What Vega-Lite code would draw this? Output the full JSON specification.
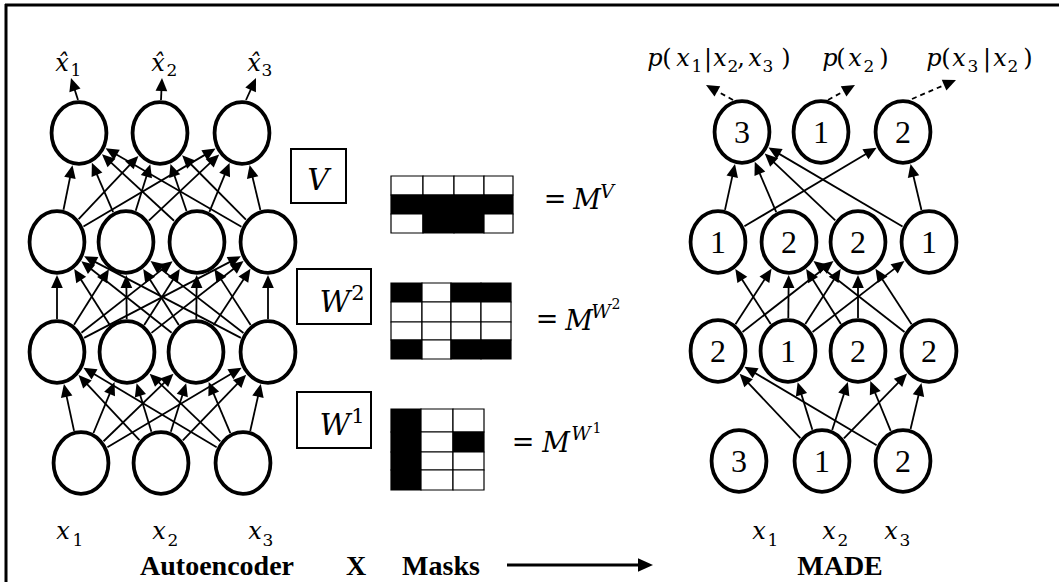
{
"$schema":"https://vega.github.io/schema/vega-lite/v6.json",
"width":1059,"height":582,"autosize":"none","padding":0,"background":"white",
"config":{"view":{"stroke":null}},
"datasets":{
"nodes":[
{"id":"a0","x":81,"y":463,"lab":""},{"id":"a1","x":161,"y":463,"lab":""},{"id":"a2","x":243,"y":463,"lab":""},
{"id":"b0","x":57,"y":352,"lab":""},{"id":"b1","x":127,"y":352,"lab":""},{"id":"b2","x":196,"y":352,"lab":""},{"id":"b3","x":268,"y":352,"lab":""},
{"id":"c0","x":57,"y":242,"lab":""},{"id":"c1","x":126,"y":242,"lab":""},{"id":"c2","x":197,"y":242,"lab":""},{"id":"c3","x":268,"y":242,"lab":""},
{"id":"d0","x":79,"y":133,"lab":""},{"id":"d1","x":160,"y":133,"lab":""},{"id":"d2","x":242,"y":133,"lab":""},
{"id":"m0","x":739,"y":461,"lab":"3"},{"id":"m1","x":822,"y":461,"lab":"1"},{"id":"m2","x":903,"y":461,"lab":"2"},
{"id":"n0","x":718,"y":351,"lab":"2"},{"id":"n1","x":788,"y":351,"lab":"1"},{"id":"n2","x":858,"y":351,"lab":"2"},{"id":"n3","x":929,"y":351,"lab":"2"},
{"id":"o0","x":718,"y":242,"lab":"1"},{"id":"o1","x":789,"y":242,"lab":"2"},{"id":"o2","x":858,"y":242,"lab":"2"},{"id":"o3","x":929,"y":242,"lab":"1"},
{"id":"p0","x":742,"y":132,"lab":"3"},{"id":"p1","x":821,"y":132,"lab":"1"},{"id":"p2","x":903,"y":132,"lab":"2"}
],
"edges":[
{"s":"a0","d":"b0"},{"s":"a0","d":"b1"},{"s":"a0","d":"b2"},{"s":"a0","d":"b3"},
{"s":"a1","d":"b0"},{"s":"a1","d":"b1"},{"s":"a1","d":"b2"},{"s":"a1","d":"b3"},
{"s":"a2","d":"b0"},{"s":"a2","d":"b1"},{"s":"a2","d":"b2"},{"s":"a2","d":"b3"},
{"s":"b0","d":"c0"},{"s":"b0","d":"c1"},{"s":"b0","d":"c2"},{"s":"b0","d":"c3"},
{"s":"b1","d":"c0"},{"s":"b1","d":"c1"},{"s":"b1","d":"c2"},{"s":"b1","d":"c3"},
{"s":"b2","d":"c0"},{"s":"b2","d":"c1"},{"s":"b2","d":"c2"},{"s":"b2","d":"c3"},
{"s":"b3","d":"c0"},{"s":"b3","d":"c1"},{"s":"b3","d":"c2"},{"s":"b3","d":"c3"},
{"s":"c0","d":"d0"},{"s":"c0","d":"d1"},{"s":"c0","d":"d2"},
{"s":"c1","d":"d0"},{"s":"c1","d":"d1"},{"s":"c1","d":"d2"},
{"s":"c2","d":"d0"},{"s":"c2","d":"d1"},{"s":"c2","d":"d2"},
{"s":"c3","d":"d0"},{"s":"c3","d":"d1"},{"s":"c3","d":"d2"},
{"s":"m1","d":"n0"},{"s":"m1","d":"n1"},{"s":"m1","d":"n2"},{"s":"m1","d":"n3"},
{"s":"m2","d":"n0"},{"s":"m2","d":"n2"},{"s":"m2","d":"n3"},
{"s":"n0","d":"o1"},{"s":"n0","d":"o2"},
{"s":"n1","d":"o0"},{"s":"n1","d":"o1"},{"s":"n1","d":"o2"},{"s":"n1","d":"o3"},
{"s":"n2","d":"o1"},{"s":"n2","d":"o2"},{"s":"n3","d":"o1"},{"s":"n3","d":"o2"},
{"s":"o0","d":"p0"},{"s":"o1","d":"p0"},{"s":"o2","d":"p0"},{"s":"o3","d":"p0"},
{"s":"o0","d":"p2"},{"s":"o3","d":"p2"}
],
"arrows":[
{"x":78,"y":100,"x2":71,"y2":78,"k":"s"},
{"x":161,"y":100,"x2":162,"y2":78,"k":"s"},
{"x":246,"y":100,"x2":256,"y2":78,"k":"s"},
{"x":733,"y":100,"x2":706,"y2":85,"k":"d"},
{"x":828,"y":100,"x2":855,"y2":85,"k":"d"},
{"x":912,"y":99,"x2":956,"y2":80,"k":"d"},
{"x":507,"y":565,"x2":653,"y2":565,"k":"b"}
],
"frame":[
{"x":5,"y":5,"x2":1059,"y2":5},
{"x":6,"y":4,"x2":6,"y2":582}
],
"boxes":[
{"x":291,"x2":346,"y":149,"y2":203},
{"x":297,"x2":371,"y":269,"y2":324},
{"x":297,"x2":371,"y":392,"y2":448}
],
"cells":[
{"x":391,"x2":423,"y":176,"y2":195,"v":0},{"x":423,"x2":454,"y":176,"y2":195,"v":0},{"x":454,"x2":484,"y":176,"y2":195,"v":0},{"x":484,"x2":513,"y":176,"y2":195,"v":0},
{"x":391,"x2":423,"y":195,"y2":214,"v":1},{"x":423,"x2":454,"y":195,"y2":214,"v":1},{"x":454,"x2":484,"y":195,"y2":214,"v":1},{"x":484,"x2":513,"y":195,"y2":214,"v":1},
{"x":391,"x2":423,"y":214,"y2":233,"v":0},{"x":423,"x2":454,"y":214,"y2":233,"v":1},{"x":454,"x2":484,"y":214,"y2":233,"v":1},{"x":484,"x2":513,"y":214,"y2":233,"v":0},
{"x":391,"x2":422,"y":283,"y2":302,"v":1},{"x":422,"x2":451,"y":283,"y2":302,"v":0},{"x":451,"x2":481,"y":283,"y2":302,"v":1},{"x":481,"x2":511,"y":283,"y2":302,"v":1},
{"x":391,"x2":422,"y":302,"y2":322,"v":0},{"x":422,"x2":451,"y":302,"y2":322,"v":0},{"x":451,"x2":481,"y":302,"y2":322,"v":0},{"x":481,"x2":511,"y":302,"y2":322,"v":0},
{"x":391,"x2":422,"y":322,"y2":340,"v":0},{"x":422,"x2":451,"y":322,"y2":340,"v":0},{"x":451,"x2":481,"y":322,"y2":340,"v":0},{"x":481,"x2":511,"y":322,"y2":340,"v":0},
{"x":391,"x2":422,"y":340,"y2":359,"v":1},{"x":422,"x2":451,"y":340,"y2":359,"v":0},{"x":451,"x2":481,"y":340,"y2":359,"v":1},{"x":481,"x2":511,"y":340,"y2":359,"v":1},
{"x":391,"x2":421,"y":409,"y2":432,"v":1},{"x":421,"x2":453,"y":409,"y2":432,"v":0},{"x":453,"x2":484,"y":409,"y2":432,"v":0},
{"x":391,"x2":421,"y":432,"y2":452,"v":1},{"x":421,"x2":453,"y":432,"y2":452,"v":0},{"x":453,"x2":484,"y":432,"y2":452,"v":1},
{"x":391,"x2":421,"y":452,"y2":470,"v":1},{"x":421,"x2":453,"y":452,"y2":470,"v":0},{"x":453,"x2":484,"y":452,"y2":470,"v":0},
{"x":391,"x2":421,"y":470,"y2":490,"v":1},{"x":421,"x2":453,"y":470,"y2":490,"v":0},{"x":453,"x2":484,"y":470,"y2":490,"v":0}
],
"texts":[
{"t":"x̂","x":62,"y":71,"k":"m"},{"t":"1","x":76,"y":76,"k":"s"},
{"t":"x̂","x":158,"y":71,"k":"m"},{"t":"2","x":172,"y":76,"k":"s"},
{"t":"x̂","x":254,"y":71,"k":"m"},{"t":"3","x":267,"y":76,"k":"s"},
{"t":"x","x":63,"y":539,"k":"m"},{"t":"1","x":78,"y":546,"k":"s"},
{"t":"x","x":159,"y":539,"k":"m"},{"t":"2","x":173,"y":546,"k":"s"},
{"t":"x","x":255,"y":539,"k":"m"},{"t":"3","x":268,"y":546,"k":"s"},
{"t":"x","x":759,"y":539,"k":"m"},{"t":"1","x":773,"y":546,"k":"s"},
{"t":"x","x":829,"y":539,"k":"m"},{"t":"2","x":843,"y":546,"k":"s"},
{"t":"x","x":891,"y":539,"k":"m"},{"t":"3","x":905,"y":546,"k":"s"},
{"t":"p","x":655,"y":66,"k":"m"},{"t":"(","x":667,"y":66,"k":"mu"},{"t":"x","x":683,"y":66,"k":"m"},{"t":"1","x":697,"y":72,"k":"s"},{"t":"|","x":708,"y":66,"k":"mu"},{"t":"x","x":720,"y":66,"k":"m"},{"t":"2","x":733,"y":72,"k":"s"},{"t":",","x":741,"y":66,"k":"mu"},{"t":"x","x":755,"y":66,"k":"m"},{"t":"3","x":768,"y":72,"k":"s"},{"t":")","x":786,"y":66,"k":"mu"},
{"t":"p","x":830,"y":66,"k":"m"},{"t":"(","x":841,"y":66,"k":"mu"},{"t":"x","x":855,"y":66,"k":"m"},{"t":"2","x":869,"y":72,"k":"s"},{"t":")","x":884,"y":66,"k":"mu"},
{"t":"p","x":934,"y":66,"k":"m"},{"t":"(","x":946,"y":66,"k":"mu"},{"t":"x","x":959,"y":66,"k":"m"},{"t":"3","x":973,"y":72,"k":"s"},{"t":"|","x":987,"y":66,"k":"mu"},{"t":"x","x":1000,"y":66,"k":"m"},{"t":"2","x":1013,"y":72,"k":"s"},{"t":")","x":1028,"y":66,"k":"mu"},
{"t":"V","x":318,"y":190,"k":"box"},
{"t":"W","x":335,"y":312,"k":"box"},{"t":"2","x":358,"y":300,"k":"boxs"},
{"t":"W","x":335,"y":435,"k":"box"},{"t":"1","x":358,"y":423,"k":"boxs"},
{"t":"=","x":555,"y":208,"k":"equ"},{"t":"M","x":587,"y":209,"k":"eq"},{"t":"V","x":607,"y":198,"k":"eqs"},
{"t":"=","x":547,"y":328,"k":"equ"},{"t":"M","x":579,"y":330,"k":"eq"},{"t":"W","x":601,"y":318,"k":"eqs"},{"t":"2","x":616,"y":309,"k":"eqs2"},
{"t":"=","x":523,"y":451,"k":"equ"},{"t":"M","x":556,"y":452,"k":"eq"},{"t":"W","x":581,"y":440,"k":"eqs"},{"t":"1","x":597,"y":433,"k":"eqs2"},
{"t":"Autoencoder","x":217,"y":575,"k":"b"},{"t":"X","x":356,"y":575,"k":"b"},{"t":"Masks","x":441,"y":575,"k":"b"},{"t":"MADE","x":840,"y":575,"k":"b"}
]
},
"layer":[
{"data":{"name":"frame"},"mark":{"type":"rule","strokeWidth":3,"color":"black"},
 "encoding":{"x":{"field":"x","type":"quantitative","scale":{"domain":[0,1059],"nice":false,"zero":false},"axis":null},
  "y":{"field":"y","type":"quantitative","scale":{"domain":[0,582],"nice":false,"zero":false,"reverse":true},"axis":null},
  "x2":{"field":"x2"},"y2":{"field":"y2"}}},
{"data":{"name":"cells"},"mark":{"type":"rect","stroke":"black","strokeWidth":1.2},
 "encoding":{"x":{"field":"x","type":"quantitative","scale":{"domain":[0,1059],"nice":false,"zero":false},"axis":null},
  "y":{"field":"y","type":"quantitative","scale":{"domain":[0,582],"nice":false,"zero":false,"reverse":true},"axis":null},
  "x2":{"field":"x2"},"y2":{"field":"y2"},
  "fill":{"condition":{"test":"datum.v == 1","value":"black"},"value":"white"}}},
{"data":{"name":"boxes"},"mark":{"type":"rect","stroke":"black","strokeWidth":2,"fill":"white","fillOpacity":0},
 "encoding":{"x":{"field":"x","type":"quantitative","scale":{"domain":[0,1059],"nice":false,"zero":false},"axis":null},
  "y":{"field":"y","type":"quantitative","scale":{"domain":[0,582],"nice":false,"zero":false,"reverse":true},"axis":null},
  "x2":{"field":"x2"},"y2":{"field":"y2"}}},
{"data":{"name":"edges"},
 "transform":[
  {"lookup":"s","from":{"data":{"name":"nodes"},"key":"id","fields":["x","y"]},"as":["sx","sy"]},
  {"lookup":"d","from":{"data":{"name":"nodes"},"key":"id","fields":["x","y"]},"as":["tx","ty"]},
  {"calculate":"datum.tx-datum.sx","as":"dx"},
  {"calculate":"datum.ty-datum.sy","as":"dy"},
  {"calculate":"1/sqrt(pow(datum.dx/30,2)+pow(datum.dy/33,2))","as":"q"},
  {"calculate":"sqrt(datum.dx*datum.dx+datum.dy*datum.dy)","as":"L"},
  {"calculate":"datum.sx+datum.dx*datum.q","as":"lx1"},
  {"calculate":"datum.sy+datum.dy*datum.q","as":"ly1"},
  {"calculate":"datum.tx-datum.dx*datum.q","as":"ax"},
  {"calculate":"datum.ty-datum.dy*datum.q","as":"ay"},
  {"calculate":"datum.ax-8*datum.dx/datum.L","as":"lx2"},
  {"calculate":"datum.ay-8*datum.dy/datum.L","as":"ly2"},
  {"calculate":"atan2(datum.dx,-datum.dy)*180/PI","as":"ang"}
 ],
 "layer":[
  {"mark":{"type":"rule","strokeWidth":1.8,"color":"black"},
   "encoding":{"x":{"field":"lx1","type":"quantitative","scale":{"domain":[0,1059],"nice":false,"zero":false},"axis":null},
    "y":{"field":"ly1","type":"quantitative","scale":{"domain":[0,582],"nice":false,"zero":false,"reverse":true},"axis":null},
    "x2":{"field":"lx2"},"y2":{"field":"ly2"}}},
  {"mark":{"type":"point","shape":"M0,0L-0.9,2L0.9,2Z","size":169,"filled":true,"color":"black","strokeWidth":0,"opacity":1},
   "encoding":{"x":{"field":"ax","type":"quantitative","scale":{"domain":[0,1059],"nice":false,"zero":false},"axis":null},
    "y":{"field":"ay","type":"quantitative","scale":{"domain":[0,582],"nice":false,"zero":false,"reverse":true},"axis":null},
    "angle":{"field":"ang","type":"quantitative","scale":null}}}
 ]},
{"data":{"name":"arrows"},
 "transform":[
  {"calculate":"sqrt(pow(datum.x2-datum.x,2)+pow(datum.y2-datum.y,2))","as":"L"},
  {"calculate":"datum.k=='b' ? 12 : 8","as":"hl"},
  {"calculate":"datum.x2-(datum.x2-datum.x)/datum.L*datum.hl","as":"ex"},
  {"calculate":"datum.y2-(datum.y2-datum.y)/datum.L*datum.hl","as":"ey"},
  {"calculate":"atan2(datum.x2-datum.x,-(datum.y2-datum.y))*180/PI","as":"ang"}
 ],
 "layer":[
  {"transform":[{"filter":"datum.k=='s'"}],"mark":{"type":"rule","strokeWidth":1.8,"color":"black"},
   "encoding":{"x":{"field":"x","type":"quantitative","scale":{"domain":[0,1059],"nice":false,"zero":false},"axis":null},
    "y":{"field":"y","type":"quantitative","scale":{"domain":[0,582],"nice":false,"zero":false,"reverse":true},"axis":null},
    "x2":{"field":"ex"},"y2":{"field":"ey"}}},
  {"transform":[{"filter":"datum.k=='d'"}],"mark":{"type":"rule","strokeWidth":1.8,"color":"black","strokeDash":[5,4]},
   "encoding":{"x":{"field":"x","type":"quantitative","scale":{"domain":[0,1059],"nice":false,"zero":false},"axis":null},
    "y":{"field":"y","type":"quantitative","scale":{"domain":[0,582],"nice":false,"zero":false,"reverse":true},"axis":null},
    "x2":{"field":"ex"},"y2":{"field":"ey"}}},
  {"transform":[{"filter":"datum.k=='b'"}],"mark":{"type":"rule","strokeWidth":3,"color":"black"},
   "encoding":{"x":{"field":"x","type":"quantitative","scale":{"domain":[0,1059],"nice":false,"zero":false},"axis":null},
    "y":{"field":"y","type":"quantitative","scale":{"domain":[0,582],"nice":false,"zero":false,"reverse":true},"axis":null},
    "x2":{"field":"ex"},"y2":{"field":"ey"}}},
  {"transform":[{"filter":"datum.k!='b'"}],"mark":{"type":"point","shape":"M0,0L-0.9,2L0.9,2Z","size":169,"filled":true,"color":"black","strokeWidth":0,"opacity":1},
   "encoding":{"x":{"field":"x2","type":"quantitative","scale":{"domain":[0,1059],"nice":false,"zero":false},"axis":null},
    "y":{"field":"y2","type":"quantitative","scale":{"domain":[0,582],"nice":false,"zero":false,"reverse":true},"axis":null},
    "angle":{"field":"ang","type":"quantitative","scale":null}}},
  {"transform":[{"filter":"datum.k=='b'"}],"mark":{"type":"point","shape":"M0,0L-0.9,2L0.9,2Z","size":225,"filled":true,"color":"black","strokeWidth":0,"opacity":1},
   "encoding":{"x":{"field":"x2","type":"quantitative","scale":{"domain":[0,1059],"nice":false,"zero":false},"axis":null},
    "y":{"field":"y2","type":"quantitative","scale":{"domain":[0,582],"nice":false,"zero":false,"reverse":true},"axis":null},
    "angle":{"field":"ang","type":"quantitative","scale":null}}}
 ]},
{"data":{"name":"nodes"},
 "layer":[
  {"mark":{"type":"point","shape":"M-0.89,0A0.89,1,0,1,1,0.89,0A0.89,1,0,1,1,-0.89,0Z","size":3800,"filled":true,"fill":"white","stroke":"black","strokeWidth":3.8,"opacity":1},
   "encoding":{"x":{"field":"x","type":"quantitative","scale":{"domain":[0,1059],"nice":false,"zero":false},"axis":null},
    "y":{"field":"y","type":"quantitative","scale":{"domain":[0,582],"nice":false,"zero":false,"reverse":true},"axis":null}}},
  {"transform":[{"filter":"datum.lab != ''"}],
   "mark":{"type":"text","font":"Liberation Serif","fontSize":32,"align":"center","baseline":"alphabetic","dy":11,"color":"black"},
   "encoding":{"x":{"field":"x","type":"quantitative","scale":{"domain":[0,1059],"nice":false,"zero":false},"axis":null},
    "y":{"field":"y","type":"quantitative","scale":{"domain":[0,582],"nice":false,"zero":false,"reverse":true},"axis":null},
    "text":{"field":"lab"}}}
 ]},
{"data":{"name":"texts"},
 "encoding":{"x":{"field":"x","type":"quantitative","scale":{"domain":[0,1059],"nice":false,"zero":false},"axis":null},
  "y":{"field":"y","type":"quantitative","scale":{"domain":[0,582],"nice":false,"zero":false,"reverse":true},"axis":null},
  "text":{"field":"t"}},
 "layer":[
  {"transform":[{"filter":"datum.k=='m'"}],"mark":{"type":"text","font":"DejaVu Serif","fontStyle":"italic","fontSize":24,"align":"center","baseline":"alphabetic","color":"black"}},
  {"transform":[{"filter":"datum.k=='mu'"}],"mark":{"type":"text","font":"DejaVu Serif","fontSize":24,"align":"center","baseline":"alphabetic","color":"black"}},
  {"transform":[{"filter":"datum.k=='s'"}],"mark":{"type":"text","font":"DejaVu Serif","fontSize":17,"align":"center","baseline":"alphabetic","color":"black"}},
  {"transform":[{"filter":"datum.k=='box'"}],"mark":{"type":"text","font":"DejaVu Serif","fontStyle":"italic","fontSize":30,"align":"center","baseline":"alphabetic","color":"black"}},
  {"transform":[{"filter":"datum.k=='boxs'"}],"mark":{"type":"text","font":"DejaVu Serif","fontSize":21,"align":"center","baseline":"alphabetic","color":"black"}},
  {"transform":[{"filter":"datum.k=='eq'"}],"mark":{"type":"text","font":"DejaVu Serif","fontStyle":"italic","fontSize":27,"align":"center","baseline":"alphabetic","color":"black"}},
  {"transform":[{"filter":"datum.k=='equ'"}],"mark":{"type":"text","font":"DejaVu Serif","fontSize":27,"align":"center","baseline":"alphabetic","color":"black"}},
  {"transform":[{"filter":"datum.k=='eqs'"}],"mark":{"type":"text","font":"DejaVu Serif","fontStyle":"italic","fontSize":19,"align":"center","baseline":"alphabetic","color":"black"}},
  {"transform":[{"filter":"datum.k=='eqs2'"}],"mark":{"type":"text","font":"DejaVu Serif","fontSize":14,"align":"center","baseline":"alphabetic","color":"black"}},
  {"transform":[{"filter":"datum.k=='b'"}],"mark":{"type":"text","font":"Liberation Serif","fontWeight":"bold","fontSize":28,"align":"center","baseline":"alphabetic","color":"black"}}
 ]}
]
}
